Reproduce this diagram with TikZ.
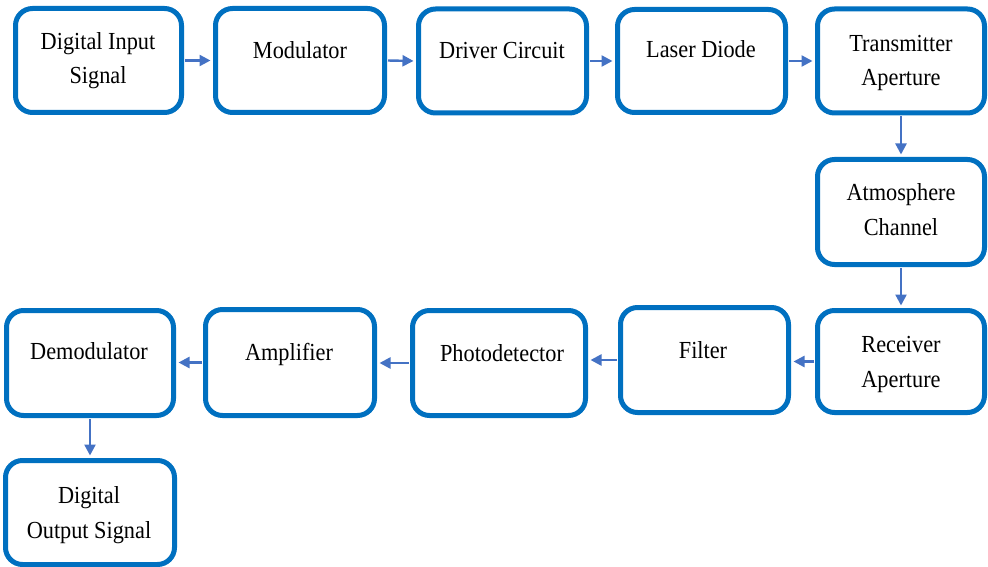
\documentclass[tikz,border=0pt]{standalone}
\usepackage{fontspec}
\setmainfont{Liberation Serif}[FakeStretch=0.91]
\usetikzlibrary{arrows.meta}
\definecolor{boxblue}{HTML}{0070C0}
\definecolor{arrowblue}{HTML}{4472C4}
\tikzset{
  stage/.style={draw=boxblue, line width=5pt, rounded corners=17pt, fill=white, inner sep=0pt},
  lbl/.style={font=\fontsize{24.5}{34.5}\selectfont, align=center, anchor=base, inner sep=0pt},
  flow/.style={draw=arrowblue, line width=2.4pt, shorten >=2.5pt, shorten <=1pt,
    -{Triangle[length=11pt,width=11pt]}}
}
\begin{document}
\begin{tikzpicture}[x=1pt,y=-1pt]
\useasboundingbox (0,0) rectangle (988,567);
% stage boxes (centre, size of border path)
\node[stage, minimum width=166pt, minimum height=104pt] (b1)  at (98.5,60.5) {};
\node[stage, minimum width=169pt, minimum height=104pt] (b2)  at (300,60.5) {};
\node[stage, minimum width=168pt, minimum height=104pt] (b3)  at (502.5,61) {};
\node[stage, minimum width=168pt, minimum height=103pt] (b4)  at (701.5,61) {};
\node[stage, minimum width=167pt, minimum height=104pt] (b5)  at (901,61) {};
\node[stage, minimum width=167pt, minimum height=105pt] (b6)  at (901,212) {};
\node[stage, minimum width=167pt, minimum height=102pt] (b7)  at (901,361.5) {};
\node[stage, minimum width=168pt, minimum height=105pt] (b8)  at (704.5,360) {};
\node[stage, minimum width=173pt, minimum height=105pt] (b9)  at (499,363) {};
\node[stage, minimum width=169pt, minimum height=106pt] (b10) at (290,362.5) {};
\node[stage, minimum width=167pt, minimum height=105pt] (b11) at (90,363) {};
\node[stage, minimum width=169pt, minimum height=104pt] (b12) at (90,512.5) {};
% labels (anchored on the baseline of their last line)
\node[lbl] (t1)  at (98,84)  {Digital Input\\Signal};
\node[lbl] (t2)  at (300,59) {Modulator};
\node[lbl] (t3)  at (502,59) {Driver Circuit};
\node[lbl] (t4)  at (701,58) {Laser Diode};
\node[lbl] (t5)  at (901,86) {Transmitter\\Aperture};
\node[lbl] (t6)  at (901,235) {Atmosphere\\Channel};
\node[lbl] (t7)  at (901,387) {Receiver\\Aperture};
\node[lbl] (t8)  at (703,358) {Filter};
\node[lbl] (t9)  at (502,361) {Photodetector};
\node[lbl] (t10) at (289,360) {Amplifier};
\node[lbl] (t11) at (89,359) {Demodulator};
\node[lbl] (t12) at (89,538) {Digital\\Output Signal};
% signal flow
\draw[flow] (b1.east) -- (b2.west);
\draw[flow] (b2.east) -- (b3.west);
\draw[flow] (b3.east) -- (b4.west);
\draw[flow] (b4.east) -- (b5.west);
\draw[flow] (b5.south) -- (b6.north);
\draw[flow] (b6.south) -- (b7.north);
\draw[flow] (b7.west) -- (b8.east |- b7.west);
\draw[flow] (b8.west) -- (b9.east |- b8.west);
\draw[flow] (b9.west) -- (b10.east |- b9.west);
\draw[flow] (b10.west) -- (b11.east |- b10.west);
\draw[flow] (b11.south) -- (b12.north);
\end{tikzpicture}
\end{document}
